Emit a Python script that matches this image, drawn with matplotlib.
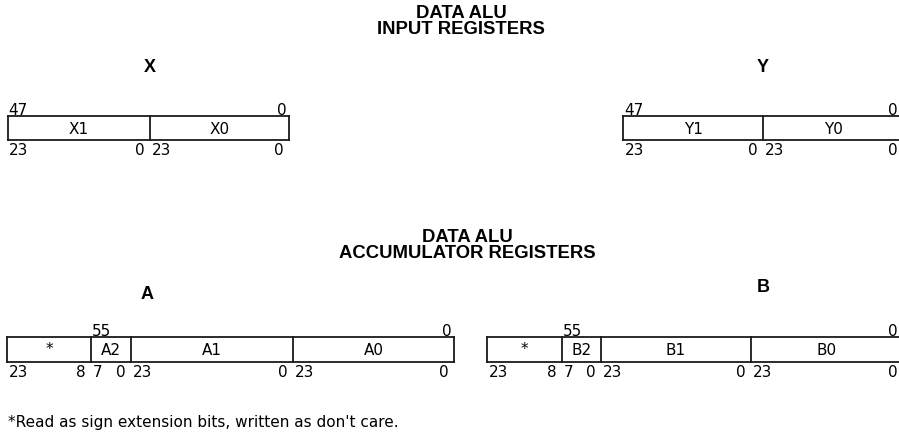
import matplotlib
matplotlib.use('Agg')
import matplotlib.pyplot as plt

# register data
input_title = ['DATA ALU', 'INPUT REGISTERS']
acc_title = ['DATA ALU', 'ACCUMULATOR REGISTERS']

input_names = ['X', 'Y']
input_fields = [['X1', 'X0'], ['Y1', 'Y0']]
input_top_bits = ['47', '0']
input_field_bits = [('23', '0'), ('23', '0')]

acc_names = ['A', 'B']
acc_fields = [['*', 'A2', 'A1', 'A0'], ['*', 'B2', 'B1', 'B0']]
acc_top_bits = ['55', '0']
acc_field_bits = [('23', '8'), ('7', '0'), ('23', '0'), ('23', '0')]

footnote = "*Read as sign extension bits, written as don't care."

# layout in pixels (x right, y down)
input_edges = [[7.5, 150, 289], [623, 763, 903]]
input_box_y = (117, 141)
input_name_y = 67
acc_edges = [[7, 91, 131, 293, 454], [487, 562, 601, 751, 903]]
acc_box_y = (338, 363)
acc_name_y = [295, 288]

LINE = '#1a1a1a'
REG = ['DejaVu Sans']
BOLD = ['Liberation Sans', 'DejaVu Sans']
FS = 11
TS = 13.3

fig = plt.figure(figsize=(8.99, 4.35), dpi=100)
ax = fig.add_axes([0, 0, 1, 1])
ax.set_xlim(0, 899)
ax.set_ylim(435, 0)
ax.axis('off')


def top_bits_x(edges, fields):
    if fields[0] == '*':
        return edges[1] + 1
    return edges[0] + 1


def draw_register(edges, top, bottom, fields, field_bits, top_bits):
    ax.plot([edges[0], edges[-1]], [top, top], color=LINE, lw=1.3)
    ax.plot([edges[0], edges[-1]], [bottom, bottom], color=LINE, lw=1.3)
    for x in edges:
        ax.plot([x, x], [top, bottom], color=LINE, lw=1.3)
    mid = (top + bottom) / 2
    right_end = min(edges[-1] - 2, 898)
    for i, name in enumerate(fields):
        left, right = edges[i], edges[i + 1]
        ax.text((left + right) / 2, mid + 5 if name != '*' else mid + 4, name,
                ha='center', va='baseline', fontsize=FS, family=REG)
        hi, lo = field_bits[i]
        ax.text(left + 1.5, bottom + 14.5, hi, ha='left', va='baseline',
                fontsize=FS, family=REG)
        ax.text(min(right - 5, right_end), bottom + 14.5, lo, ha='right',
                va='baseline', fontsize=FS, family=REG)
    # top labels: MSB over the first numbered field, 0 at right end
    ax.text(top_bits_x(edges, fields), top - 2, top_bits[0], ha='left',
            va='baseline', fontsize=FS, family=REG)
    ax.text(right_end, top - 2, top_bits[1], ha='right', va='baseline',
            fontsize=FS, family=REG)


# input registers
ax.text(461, 13, input_title[0], ha='center', va='center', fontsize=TS,
        fontweight='bold', family=BOLD)
ax.text(461, 29, input_title[1], ha='center', va='center', fontsize=TS,
        fontweight='bold', family=BOLD)
for k in range(2):
    e = input_edges[k]
    ax.text(e[1], input_name_y, input_names[k], ha='center', va='center',
            fontsize=13, fontweight='bold', family=BOLD)
    draw_register(e, input_box_y[0], input_box_y[1], input_fields[k],
                  input_field_bits, input_top_bits)

# accumulator registers
ax.text(467, 238, acc_title[0], ha='center', va='center', fontsize=TS,
        fontweight='bold', family=BOLD)
ax.text(467, 254, acc_title[1], ha='center', va='center', fontsize=TS,
        fontweight='bold', family=BOLD)
for k in range(2):
    e = acc_edges[k]
    ax.text(e[2] + 16 if k == 0 else 763, acc_name_y[k], acc_names[k],
            ha='center', va='center', fontsize=13, fontweight='bold',
            family=BOLD)
    draw_register(e, acc_box_y[0], acc_box_y[1], acc_fields[k],
                  acc_field_bits, acc_top_bits)

ax.text(8, 427, footnote, ha='left', va='baseline', fontsize=FS, family=REG)

plt.savefig('out.png', dpi=100)
